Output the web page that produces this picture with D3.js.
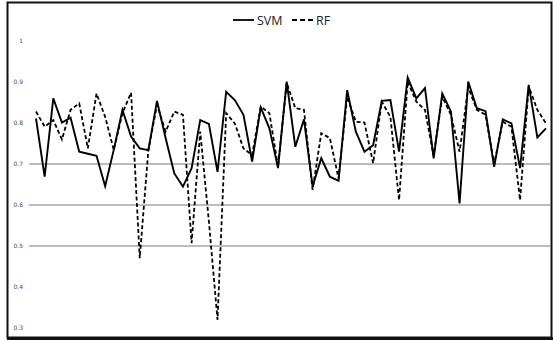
<!DOCTYPE html>
<html>
<head>
<meta charset="utf-8">
<script src="https://cdn.jsdelivr.net/npm/d3@7"></script>
<style>
  html, body { margin: 0; padding: 0; background: #fff; }
  svg { display: block; }
</style>
</head>
<body>
<div id="chart"></div>
<script>
// values, one per run (60 runs)
const svmValues = [
  0.811, 0.669, 0.860, 0.801, 0.813, 0.730, 0.725, 0.720, 0.646, 0.735,
  0.832, 0.767, 0.738, 0.734, 0.854, 0.763, 0.677, 0.645, 0.690, 0.807,
  0.798, 0.681, 0.876, 0.856, 0.820, 0.706, 0.838, 0.787, 0.690, 0.901,
  0.742, 0.809, 0.645, 0.714, 0.669, 0.659, 0.880, 0.779, 0.730, 0.746,
  0.854, 0.856, 0.730, 0.911, 0.860, 0.885, 0.714, 0.872, 0.828, 0.604,
  0.901, 0.836, 0.829, 0.693, 0.809, 0.799, 0.690, 0.893, 0.765, 0.787
];
const rfValues = [
  0.828, 0.791, 0.807, 0.760, 0.832, 0.848, 0.738, 0.872, 0.815, 0.734,
  0.824, 0.874, 0.470, 0.734, 0.844, 0.779, 0.828, 0.820, 0.507, 0.779,
  0.560, 0.320, 0.824, 0.799, 0.738, 0.722, 0.840, 0.824, 0.693, 0.898,
  0.836, 0.832, 0.637, 0.775, 0.763, 0.665, 0.864, 0.803, 0.801, 0.702,
  0.852, 0.815, 0.612, 0.901, 0.852, 0.832, 0.720, 0.864, 0.820, 0.730,
  0.887, 0.832, 0.820, 0.700, 0.803, 0.791, 0.612, 0.889, 0.832, 0.799
];
const seriesNames = ['SVM', 'RF'];
const yTicks = [1, 0.9, 0.8, 0.7, 0.6, 0.5, 0.4, 0.3];
const yTickLabels = ['1', '0.9', '0.8', '0.7', '0.6', '0.5', '0.4', '0.3'];
const gridValues = [0.7, 0.6, 0.5];

const cfg = {
  width: 553,
  height: 340,
  plot: { left: 36, right: 546, top: 41, bottom: 328 },
  dash: '4,2.5'
};

const svg = d3.select('#chart')
  .append('svg')
  .attr('width', cfg.width)
  .attr('height', cfg.height)
  .attr('viewBox', [0, 0, cfg.width, cfg.height]);

const xScale = d3.scaleLinear([0, svmValues.length - 1], [cfg.plot.left, cfg.plot.right]);
const yScale = d3.scaleLinear([0.3, 1], [cfg.plot.bottom, cfg.plot.top]);

// frame round the picture
svg.append('rect')
  .attr('x', 7.5).attr('y', 2.5)
  .attr('width', 544).attr('height', 335)
  .style('fill', 'none')
  .style('stroke', '#111')
  .style('stroke-width', 2);
svg.append('line')
  .attr('x1', 7).attr('x2', 553)
  .attr('y1', 338.5).attr('y2', 338.5)
  .style('stroke', '#111')
  .style('stroke-width', 3);

// gridlines (only a few in the original)
svg.append('g')
  .attr('class', 'gridlines')
  .selectAll('line')
  .data(gridValues)
  .join('line')
  .attr('x1', 29)
  .attr('x2', 550)
  .attr('y1', d => yScale(d))
  .attr('y2', d => yScale(d))
  .style('stroke', '#a6a6a6')
  .style('stroke-width', 1.5);

// y axis, labels only
const yAxis = d3.axisLeft(yScale)
  .tickValues(yTicks)
  .tickSize(0)
  .tickPadding(1)
  .tickFormat((d, i) => yTickLabels[i]);

svg.append('g')
  .attr('class', 'yAxis')
  .attr('transform', 'translate(24, 0)')
  .call(yAxis)
  .call(g => g.select('.domain').remove())
  .selectAll('text')
  .style('font-family', '"DejaVu Sans", sans-serif')
  .style('font-size', '6px')
  .style('fill', '#4a4a5a');

// lines
const line = d3.line()
  .x((d, i) => xScale(i))
  .y(d => yScale(d))
  .curve(d3.curveLinear);

const chartLines = svg.append('g').attr('class', 'chartlines');

chartLines.append('path')
  .datum(rfValues)
  .attr('d', line)
  .style('fill', 'none')
  .style('stroke', '#000')
  .style('stroke-width', 1.8)
  .style('stroke-dasharray', cfg.dash)
  .style('stroke-linejoin', 'miter');

chartLines.append('path')
  .datum(svmValues)
  .attr('d', line)
  .style('fill', 'none')
  .style('stroke', '#000')
  .style('stroke-width', 1.9)
  .style('stroke-linejoin', 'miter');

// legend
const legend = svg.append('g').attr('class', 'legend');
const legendItems = [
  { name: seriesNames[0], x: 233, dash: null },
  { name: seriesNames[1], x: 292, dash: '5,3' }
];
legendItems.forEach(item => {
  legend.append('line')
    .attr('x1', item.x).attr('x2', item.x + 21)
    .attr('y1', 20).attr('y2', 20)
    .style('stroke', '#000')
    .style('stroke-width', 1.8)
    .style('stroke-dasharray', item.dash);
  legend.append('text')
    .attr('x', item.x + 24)
    .attr('y', 24.5)
    .text(item.name)
    .style('font-family', '"Open Sans", sans-serif')
    .style('font-size', '12.5px')
    .style('fill', '#222');
});
</script>
</body>
</html>
